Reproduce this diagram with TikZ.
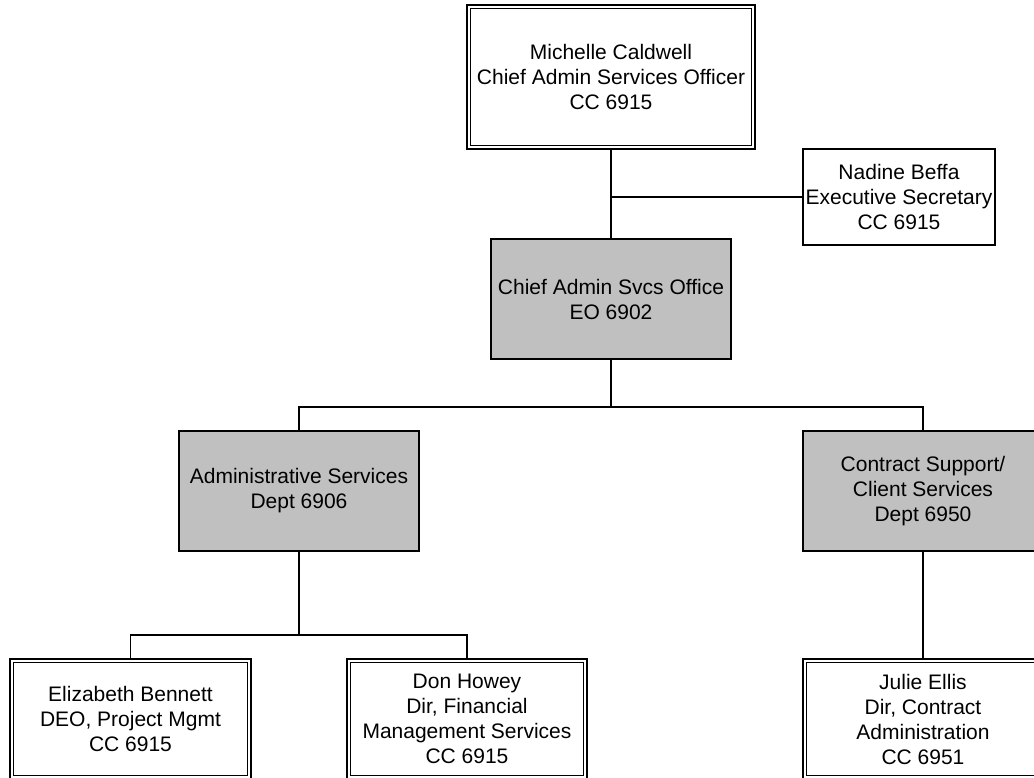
\documentclass[tikz,border=0pt]{standalone}
\usepackage{fontspec}
\setmainfont{Liberation Sans}
\definecolor{boxgray}{HTML}{C0C0C0}
\tikzset{
  x=1pt, y=-1pt,
  orgbox/.style={draw=black, line width=1.8pt, rectangle, inner sep=0pt, align=center,
     font=\fontsize{21}{25}\selectfont, fill=white},
  graybox/.style={orgbox, fill=boxgray},
  conn/.style={draw=black, line width=1.8pt},
  innerframe/.style={draw=black, line width=1.2pt},
}
\newcommand{\innerbox}[1]{\draw[innerframe] ([shift={(4.5,4.5)}]#1.north west) rectangle ([shift={(-4.5,-4.5)}]#1.south east);}
\begin{document}
\begin{tikzpicture}
\useasboundingbox (0,0) rectangle (1034,778);
\clip (0,0) rectangle (1034,778);
\fill[white] (0,0) rectangle (1034,778);

% nodes
\node[orgbox, minimum width=288pt, minimum height=144pt] (m) at (611,77)
  {Michelle Caldwell\\Chief Admin Services Officer\\CC 6915};
\innerbox{m}
\node[orgbox, minimum width=192pt, minimum height=96pt] (n) at (899,197)
  {Nadine Beffa\\Executive Secretary\\CC 6915};
\node[graybox, minimum width=240pt, minimum height=120pt] (c) at (611,299)
  {Chief Admin Svcs Office\\EO 6902};
\node[graybox, minimum width=240pt, minimum height=120pt] (a) at (299,491)
  {Administrative Services\\Dept 6906};
\node[graybox, minimum width=240pt, minimum height=120pt] (cs) at (923,491)
  {Contract Support/\\Client Services\\Dept 6950};
\node[orgbox, minimum width=241pt, minimum height=120pt] (e) at (130.5,719)
  {Elizabeth Bennett\\DEO, Project Mgmt\\CC 6915};
\innerbox{e}
\node[orgbox, minimum width=240pt, minimum height=120pt] (d) at (467,719)
  {Don Howey\\Dir, Financial\\Management Services\\CC 6915};
\innerbox{d}
\node[orgbox, minimum width=240pt, minimum height=120pt] (j) at (923,719)
  {Julie Ellis\\Dir, Contract\\Administration\\CC 6951};
\innerbox{j}

% bus coordinates
\coordinate (bus1) at (611,407);
\coordinate (bus2) at (299,635);

% connectors
\draw[conn] (m.south) -- (c.north);
\draw[conn] (n.west) -- (m.south |- n.west);
\draw[conn] (c.south) -- (bus1);
\draw[conn] (a.north) -- (a.north |- bus1) -- (cs.north |- bus1) -- (cs.north);
\draw[conn] (a.south) -- (bus2);
\draw[conn] (e.north) -- (e.north |- bus2) -- (d.north |- bus2) -- (d.north);
\draw[conn] (cs.south) -- (j.north);
\end{tikzpicture}
\end{document}
